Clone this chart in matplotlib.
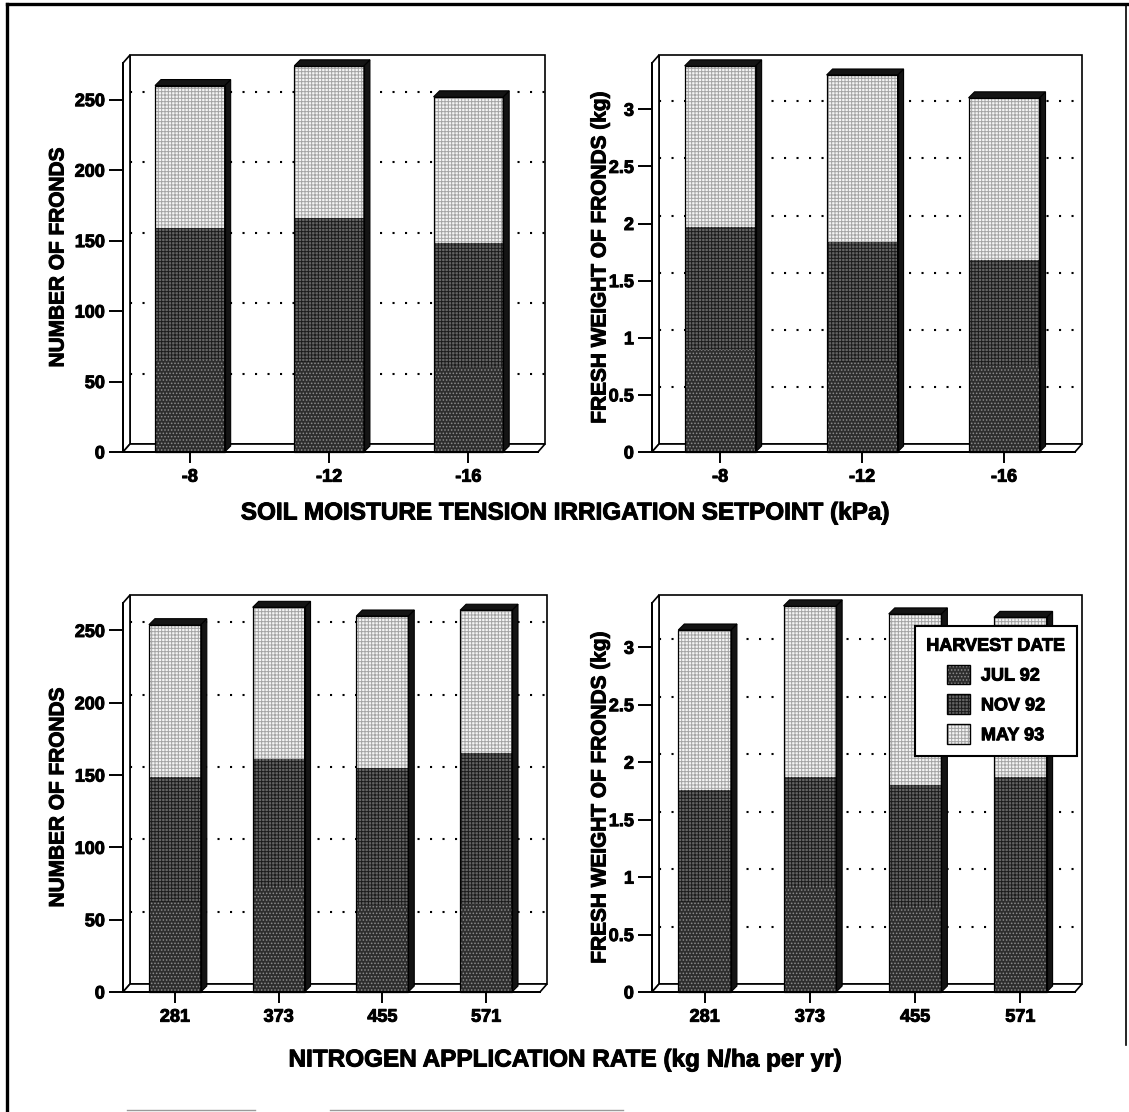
import matplotlib
matplotlib.use("Agg")
import matplotlib.pyplot as plt
import matplotlib.patheffects as pe
from matplotlib.patches import Polygon, Rectangle, Patch
from matplotlib.lines import Line2D

plt.rcParams['font.family'] = ['Liberation Sans', 'DejaVu Sans']
plt.rcParams['font.weight'] = 'bold'
plt.rcParams['hatch.linewidth'] = 0.7

# heavier lettering
HEAVY = [pe.withStroke(linewidth=0.7, foreground="black")]

# ---- data -------------------------------------------------------------
harvests = ["JUL 92", "NOV 92", "MAY 93"]

tension_setpoints = ["-8", "-12", "-16"]
tension_count_jul = [65, 64, 60]
tension_count_nov = [94, 102, 88]
tension_count_may = [101, 108, 104]
tension_weight_jul = [0.89, 0.79, 0.76]
tension_weight_nov = [1.08, 1.05, 0.92]
tension_weight_may = [1.41, 1.46, 1.42]

nitrogen_rates = ["281", "373", "455", "571"]
nitrogen_count_jul = [62, 73, 60, 61]
nitrogen_count_nov = [87, 88, 95, 104]
nitrogen_count_may = [105, 105, 105, 99]
nitrogen_weight_jul = [0.78, 0.92, 0.75, 0.81]
nitrogen_weight_nov = [0.98, 0.95, 1.05, 1.06]
nitrogen_weight_may = [1.39, 1.49, 1.49, 1.39]

count_ticks = [0, 50, 100, 150, 200, 250]
count_tick_labels = ["0", "50", "100", "150", "200", "250"]
weight_ticks = [0, 0.5, 1, 1.5, 2, 2.5, 3]
weight_tick_labels = ["0", "0.5", "1", "1.5", "2", "2.5", "3"]

# ---- layout / style ---------------------------------------------------
FIG_W, FIG_H, DPI = 1129, 1112, 100
WALL_DX, WALL_DY = 7, 8      # depth of the box walls (pixels)
BAR_DX, BAR_DY = 6, 6        # depth of the bars (pixels)
BAR_W = 0.5

seg_style = [
    dict(face="#2e2e2e", hatch=".....", hatch_color="#8c8c8c"),
    dict(face="#646464", hatch="+++++", hatch_color="#1c1c1c"),
    dict(face="#f4f4f4", hatch="+++++", hatch_color="#a4a4a4"),
]

fig = plt.figure(figsize=(FIG_W / DPI, FIG_H / DPI), dpi=DPI)
fig.patch.set_facecolor("white")


def px_rect(left, top, right, bottom):
    return [left / FIG_W, 1 - bottom / FIG_H,
            (right - left) / FIG_W, (bottom - top) / FIG_H]


def draw_panel(rect, labels, series, ymax, ticks, ticklabels, ylabel,
               ylabel_px, xpad):
    ax = fig.add_axes(rect)
    n = len(labels)
    x0, x1 = xpad[0], n - 1 + xpad[1]
    ax.set_xlim(x0, x1)
    ax.set_ylim(0, ymax)
    ax.patch.set_visible(False)
    for s in ("top", "right"):
        ax.spines[s].set_visible(False)
    for s in ("left", "bottom"):
        ax.spines[s].set_linewidth(1.4)
        ax.spines[s].set_zorder(3)

    w_px = rect[2] * FIG_W
    h_px = rect[3] * FIG_H
    sx = (x1 - x0) / w_px
    sy = ymax / h_px
    wx, wy = WALL_DX * sx, WALL_DY * sy
    bx, by = BAR_DX * sx, BAR_DY * sy

    # box: back wall, left side wall and floor
    ax.add_patch(Rectangle((x0 + wx, wy), x1 - x0, ymax, facecolor="white",
                           edgecolor="black", lw=1.2, zorder=0.5,
                           clip_on=False))
    ax.add_patch(Polygon([(x0, 0), (x0, ymax), (x0 + wx, ymax + wy),
                          (x0 + wx, wy)], closed=True, facecolor="white",
                         edgecolor="black", lw=1.2, zorder=0.6,
                         clip_on=False))
    ax.add_patch(Polygon([(x0, 0), (x1, 0), (x1 + wx, wy), (x0 + wx, wy)],
                         closed=True, facecolor="white", edgecolor="black",
                         lw=1.2, zorder=0.6, clip_on=False))

    # dotted grid on the back wall
    for t in ticks[1:]:
        ax.plot([x0 + wx, x1 + wx], [t + wy, t + wy], color="black", lw=1.5,
                ls=(0, (1, 5)), zorder=0.7, clip_on=False)

    # stacked bars
    xs = list(range(n))
    bottoms = [0.0] * n
    for k, vals in enumerate(series):
        st = seg_style[k]
        ax.bar(xs, vals, BAR_W, bottom=bottoms, color=st["face"],
               linewidth=0, zorder=2)
        ax.bar(xs, vals, BAR_W, bottom=bottoms, facecolor="none",
               edgecolor=st["hatch_color"], hatch=st["hatch"], linewidth=0,
               zorder=2.1)
        bottoms = [b + v for b, v in zip(bottoms, vals)]

    for i, top in enumerate(bottoms):
        l, r = i - BAR_W / 2, i + BAR_W / 2
        ax.add_patch(Polygon([(r, 0), (r + bx, by), (r + bx, top + by),
                              (r, top)], closed=True, facecolor="#141414",
                             edgecolor="black", lw=0.8, zorder=2.2,
                             clip_on=False))
        ax.add_patch(Polygon([(l, top), (l + bx, top + by),
                              (r + bx, top + by), (r, top)], closed=True,
                             facecolor="#141414", edgecolor="black", lw=0.8,
                             zorder=2.2, clip_on=False))
        ax.add_patch(Rectangle((l, 0), BAR_W, top, fill=False,
                               edgecolor="black", lw=0.9, zorder=2.3,
                               clip_on=False))

    ax.set_xticks(xs, labels)
    ax.set_yticks(ticks, ticklabels)
    ax.tick_params(axis="y", direction="out", length=10, width=1.4,
                   labelsize=13, pad=3)
    ax.tick_params(axis="x", direction="out", length=8, width=1.4,
                   labelsize=13, pad=4)
    for lab in ax.get_xticklabels() + ax.get_yticklabels():
        lab.set_fontweight("bold")
        lab.set_path_effects(HEAVY)

    ax.set_ylabel(ylabel, fontsize=15, fontweight="bold", va="center",
                  path_effects=HEAVY)
    ax.yaxis.set_label_coords(-ylabel_px / w_px, 0.5)
    return ax


draw_panel(px_rect(123, 63, 538, 452), tension_setpoints,
           [tension_count_jul, tension_count_nov, tension_count_may],
           276, count_ticks, count_tick_labels, "NUMBER OF FRONDS", 65,
           (-0.48, 0.5))
draw_panel(px_rect(652, 63, 1075, 452), tension_setpoints,
           [tension_weight_jul, tension_weight_nov, tension_weight_may],
           3.405, weight_ticks, weight_tick_labels,
           "FRESH WEIGHT OF FRONDS (kg)", 52, (-0.48, 0.5))
draw_panel(px_rect(123, 603, 540, 992), nitrogen_rates,
           [nitrogen_count_jul, nitrogen_count_nov, nitrogen_count_may],
           269, count_ticks, count_tick_labels, "NUMBER OF FRONDS", 65,
           (-0.5, 0.52))
ax4 = draw_panel(px_rect(652, 603, 1075, 992), nitrogen_rates,
                 [nitrogen_weight_jul, nitrogen_weight_nov,
                  nitrogen_weight_may],
                 3.385, weight_ticks, weight_tick_labels,
                 "FRESH WEIGHT OF FRONDS (kg)", 52, (-0.5, 0.52))

# legend for the harvest dates
handles = []
for st in seg_style:
    handles.append((Patch(facecolor=st["face"], linewidth=0),
                    Patch(facecolor="none", edgecolor=st["hatch_color"],
                          hatch=st["hatch"], linewidth=0),
                    Patch(fill=False, edgecolor="black", linewidth=1.0)))
leg = ax4.legend(handles, harvests, title="HARVEST DATE", loc="upper right",
                 bbox_to_anchor=(1077 / FIG_W, 1 - 626 / FIG_H),
                 bbox_transform=fig.transFigure, frameon=True, fancybox=False,
                 edgecolor="black", framealpha=1, fontsize=13,
                 title_fontsize=13, handlelength=1.3, handleheight=1.3,
                 borderpad=0.65, labelspacing=0.55, handletextpad=0.6,
                 borderaxespad=0)
leg.get_title().set_fontweight("bold")
leg.get_title().set_path_effects(HEAVY)
for txt in leg.get_texts():
    txt.set_path_effects(HEAVY)
leg.get_frame().set_linewidth(1.5)
leg.set_zorder(10)

# axis titles shared by each row
fig.text(0.5, 1 - 513 / FIG_H,
         "SOIL MOISTURE TENSION IRRIGATION SETPOINT (kPa)",
         ha="center", va="center", fontsize=17.5, fontweight="bold",
         path_effects=HEAVY)
fig.text(0.5, 1 - 1060 / FIG_H,
         "NITROGEN APPLICATION RATE (kg N/ha per yr)",
         ha="center", va="center", fontsize=17.5, fontweight="bold",
         path_effects=HEAVY)

# outer frame
fig.add_artist(Line2D([7 / FIG_W, 7 / FIG_W], [0, 1 - 4 / FIG_H],
                      transform=fig.transFigure, color="black", lw=2.4))
fig.add_artist(Line2D([7 / FIG_W, 1], [1 - 4 / FIG_H, 1 - 4 / FIG_H],
                      transform=fig.transFigure, color="black", lw=2.4))
fig.add_artist(Line2D([1126 / FIG_W, 1126 / FIG_W], [0.06, 1 - 4 / FIG_H],
                      transform=fig.transFigure, color="black", lw=1.2))
# faint rule fragments along the lower edge
for xa, xb in [(127, 255), (330, 623)]:
    fig.add_artist(Line2D([xa / FIG_W, xb / FIG_W],
                          [1 - 1110 / FIG_H, 1 - 1110 / FIG_H],
                          transform=fig.transFigure, color="#9a9a9a", lw=1.0))

fig.savefig("out.png", dpi=DPI)
